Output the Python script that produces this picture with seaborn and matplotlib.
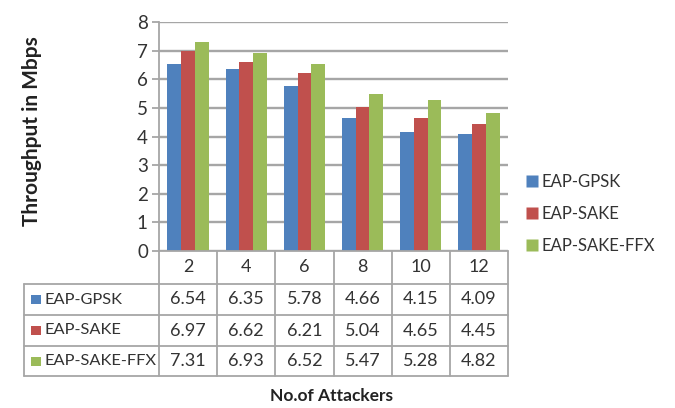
import numpy as np
import pandas as pd
import matplotlib
matplotlib.use("Agg")
import matplotlib.pyplot as plt
import seaborn as sns
from matplotlib.lines import Line2D
from matplotlib.patches import Rectangle

# Throughput (Mbps) for each number of attackers
attackers = ["2", "4", "6", "8", "10", "12"]
schemes = ["EAP-GPSK", "EAP-SAKE", "EAP-SAKE-FFX"]
gpsk = [6.54, 6.35, 5.78, 4.66, 4.15, 4.09]
sake = [6.97, 6.62, 6.21, 5.04, 4.65, 4.45]
sake_ffx = [7.31, 6.93, 6.52, 5.47, 5.28, 4.82]
colors = ["#4F81BD", "#C0504D", "#9BBB59"]

series = [gpsk, sake, sake_ffx]
df = pd.DataFrame({
    "attackers": attackers * len(schemes),
    "scheme": np.repeat(schemes, len(attackers)),
    "throughput": gpsk + sake + sake_ffx,
})

sns.set_theme(style="white")
plt.rcParams["font.family"] = ["Lato", "DejaVu Sans"]

W, H = 675, 408
fig = plt.figure(figsize=(W / 100, H / 100), dpi=100)
fig.patch.set_facecolor("white")


def box(l, t, r, b):
    return [l / W, 1 - b / H, (r - l) / W, (b - t) / H]


line_col = "#A6A6A6"
text_col = "#333333"
fs_num = 13
fs_lbl = 11.8

# ---- bar chart ----
ax = fig.add_axes(box(159, 22, 508, 251))
sns.barplot(data=df, x="attackers", y="throughput", hue="scheme",
            order=attackers, hue_order=schemes, palette=colors,
            width=0.71, gap=0, saturation=1, linewidth=0,
            legend=False, ax=ax)
ax.set_xlim(-0.5, len(attackers) - 0.5)
ax.set_ylim(0, 8)
ax.set_yticks(range(9))
ax.yaxis.grid(True, color=line_col, lw=1.7)
ax.set_axisbelow(True)
for s in ["top", "right", "bottom"]:
    ax.spines[s].set_visible(False)
ax.spines["left"].set_color(line_col)
ax.spines["left"].set_linewidth(1.3)
ax.tick_params(axis="y", left=True, length=5, width=1.3, color=line_col,
               labelsize=fs_num + 0.5, labelcolor=text_col, pad=3)
ax.set_xticks([])
ax.set_xlabel("")
ax.set_ylabel("")

# ---- data table below the bars ----
cw = (508 - 159) / len(attackers)
x_left = -0.5 - (159 - 24) / cw
x_right = len(attackers) - 0.5
rows_y = [251, 284, 315, 346, 376]
tab = fig.add_axes(box(24, 251, 508, 376))
tab.set_xlim(x_left, x_right)
tab.set_ylim(rows_y[-1], rows_y[0])
tab.axis("off")

lw = 1.3
# horizontal rules
tab.plot([-0.5, x_right], [rows_y[0]] * 2, color=line_col, lw=lw, clip_on=False)
for y in rows_y[1:]:
    tab.plot([x_left, x_right], [y, y], color=line_col, lw=lw, clip_on=False)
# vertical rules
tab.plot([x_left, x_left], [rows_y[1], rows_y[-1]], color=line_col, lw=lw, clip_on=False)
for k in range(len(attackers) + 1):
    xv = -0.5 + k
    tab.plot([xv, xv], [rows_y[0], rows_y[-1]], color=line_col, lw=lw, clip_on=False)

for i, a in enumerate(attackers):
    tab.text(i, (rows_y[0] + rows_y[1]) / 2, a, ha="center", va="center",
             fontsize=fs_num, color=text_col)
sq_w = 10 / cw
for r, (name, vals, col) in enumerate(zip(schemes, series, colors)):
    yc = (rows_y[r + 1] + rows_y[r + 2]) / 2
    x_sq = x_left + (31 - 24) / cw
    tab.add_patch(Rectangle((x_sq, yc - 4.5), sq_w, 9, facecolor=col,
                            edgecolor="none"))
    tab.text(x_left + (44 - 24) / cw, yc, name, ha="left", va="center",
             fontsize=fs_lbl, color=text_col)
    for i, v in enumerate(vals):
        tab.text(i, yc, f"{v:.2f}", ha="center", va="center",
                 fontsize=fs_num, color=text_col)

# ---- legend ----
handles = [Line2D([], [], marker="s", linestyle="none", markersize=8.5,
                  markerfacecolor=c, markeredgecolor="none") for c in colors]
fig.legend(handles, schemes, loc="center left",
           bbox_to_anchor=(519 / W, 1 - 214 / H), frameon=False,
           handlelength=0.6, handletextpad=0.25, labelspacing=0.95,
           fontsize=12, labelcolor=text_col, borderpad=0)

# ---- axis titles ----
fig.text(32 / W, 1 - 131 / H, "Throughput in Mbps", rotation=90,
         ha="center", va="center", fontsize=15, fontweight="bold",
         color="#222222")
fig.text(331 / W, 1 - 396 / H, "No.of Attackers", ha="center", va="center",
         fontsize=12.5, fontweight="bold", color="#222222")

fig.savefig("out.png", dpi=100)
